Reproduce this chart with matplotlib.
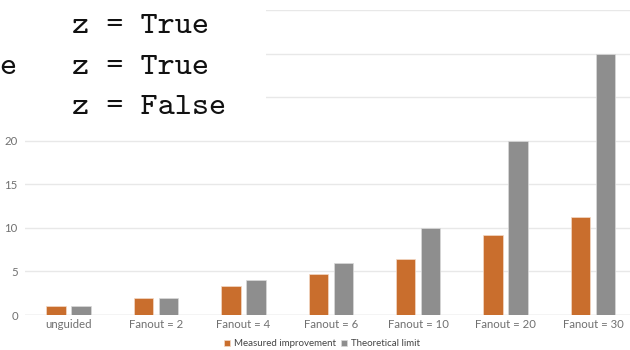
import matplotlib
matplotlib.use("Agg")
import matplotlib.pyplot as plt
from matplotlib.patches import Rectangle
import numpy as np

categories = ["unguided", "Fanout = 2", "Fanout = 4", "Fanout = 6", "Fanout = 10", "Fanout = 20", "Fanout = 30"]
measured = [1.0, 1.95, 3.35, 4.65, 6.4, 9.2, 11.3]
theoretical = [1.0, 2.0, 4.0, 6.0, 10.0, 20.0, 30.0]
series_names = ["Measured improvement", "Theoretical limit"]
yticks = [0, 5, 10, 15, 20, 25, 30, 35]
ytick_labels = ["0", "5", "10", "15", "20", "", "", ""]  # upper labels hidden under overlay
overlay_lines = ["z = True", "z = True", "z = False"]
overlay_prefix = "e"

W, H = 630, 350
fig = plt.figure(figsize=(W / 100, H / 100), dpi=100)
ax = fig.add_axes([24.8 / W, 1 - 315 / H, 612 / W, 305 / H])

orange = "#C96E2D"
gray = "#8E8E8E"
x = np.arange(len(categories))
bw = 0.223
off = 0.143
ax.bar(x - off, measured, bw, color=orange, edgecolor="#F3D9C6", linewidth=0.5, label=series_names[0], zorder=3)
ax.bar(x + off, theoretical, bw, color=gray, edgecolor="#DADADA", linewidth=0.5, label=series_names[1], zorder=3)

ax.set_xlim(-0.5, len(categories) - 0.5)
ax.set_ylim(0, 35)
ax.set_yticks(yticks)
ax.set_yticklabels(ytick_labels)
ax.set_xticks(x)
ax.set_xticklabels(categories)
ax.grid(axis="y", color="#E8E8E8", linewidth=1.0, zorder=0)
ax.tick_params(axis="both", length=0, labelsize=8.2, labelcolor="#707070")
for lbl in ax.get_xticklabels() + ax.get_yticklabels():
    lbl.set_family("Lato")
ax.tick_params(axis="x", pad=3)
ax.tick_params(axis="y", pad=5)
for s in ax.spines.values():
    s.set_visible(False)
ax.axhline(0, color="#DDDDDD", linewidth=1.0, zorder=2)

leg = fig.legend(loc="center", bbox_to_anchor=(322 / W, 1 - 344 / H), ncol=2, frameon=False,
                 prop={"family": "Lato", "size": 7}, handlelength=0.6, handleheight=0.6,
                 handletextpad=0.4, columnspacing=0.6)
for t in leg.get_texts():
    t.set_color("#444444")

# white overlay box with monospace text
fig.patches.append(Rectangle((0, 1 - 125 / H), 266 / W, 125 / H, transform=fig.transFigure,
                             facecolor="white", edgecolor="none", zorder=10))
baselines = [33, 74, 114]
for t, b in zip(overlay_lines, baselines):
    fig.text(72 / W, 1 - b / H, t, family="cmtt10", fontsize=23.5, color="#111111",
             ha="left", va="baseline", zorder=11)
fig.text(-1 / W, 1 - baselines[1] / H, overlay_prefix, family="cmtt10", fontsize=23.5,
         color="#111111", ha="left", va="baseline", zorder=11)

fig.savefig("out.png", dpi=100)
